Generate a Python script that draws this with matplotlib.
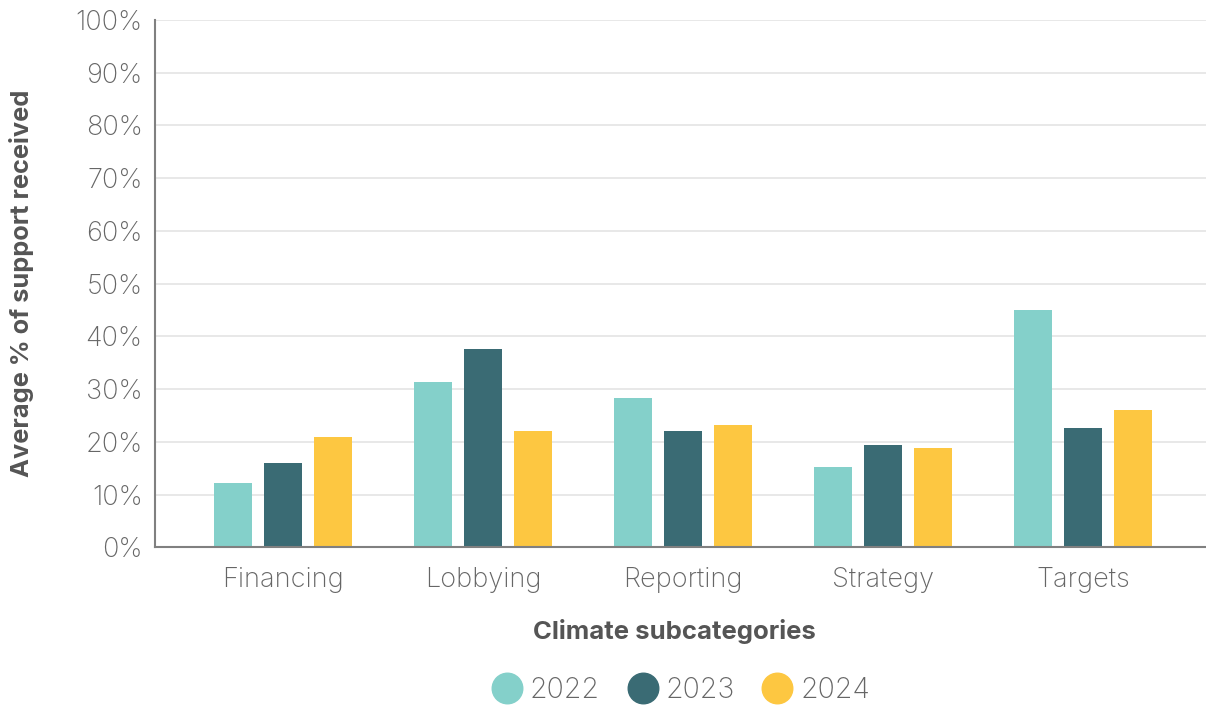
import matplotlib
matplotlib.use("Agg")
import matplotlib.pyplot as plt
from matplotlib.lines import Line2D
import numpy as np

categories = ["Financing", "Lobbying", "Reporting", "Strategy", "Targets"]
years = ["2022", "2023", "2024"]
values_2022 = [12.1, 31.4, 28.3, 15.2, 45.0]
values_2023 = [15.9, 37.6, 22.1, 19.4, 22.6]
values_2024 = [20.9, 22.1, 23.2, 18.85, 26.1]
colors = ["#84D0CA", "#3A6B74", "#FDC741"]
yticks = [0, 10, 20, 30, 40, 50, 60, 70, 80, 90, 100]
ytick_labels = [f"{v}%" for v in yticks]

plt.rcParams['font.family'] = ['Inter', 'DejaVu Sans']

fig = plt.figure(figsize=(12.06, 7.05), dpi=100)
ax = fig.add_axes([155/1206, 1 - 547.3/705, 1 - 155/1206, (547.3 - 20)/705])

x = np.arange(len(categories))
series = [values_2022, values_2023, values_2024]
offsets = [-0.25, 0, 0.25]
for vals, off, col in zip(series, offsets, colors):
    ax.bar(x + off, vals, width=0.19, color=col, zorder=3)

ax.set_xlim(-0.64, 4.615)
ax.set_ylim(0, 100)
ax.set_yticks(yticks)
ax.set_yticklabels(ytick_labels)
ax.set_xticks(x)
ax.set_xticklabels(categories)
ax.tick_params(axis='y', length=0, pad=9, labelsize=19.5, labelcolor="#666666")
ax.tick_params(axis='x', length=0, pad=14, labelsize=19.5, labelcolor="#666666")
for lab in ax.get_yticklabels() + ax.get_xticklabels():
    lab.set_fontweight('light')
ax.grid(axis='y', color="#e6e6e6", linewidth=1.3, zorder=0)
for s in ["top", "right"]:
    ax.spines[s].set_visible(False)
for s in ["left", "bottom"]:
    ax.spines[s].set_color("#808080")
    ax.spines[s].set_linewidth(1.5)
    ax.spines[s].set_zorder(4)

ax.set_ylabel("Average % of support received", fontsize=18.3, fontweight='bold',
              color="#555555")
ax.yaxis.set_label_coords(-0.115, 0.5)
fig.text(0.5 + (155/1206)/2 - 0.005, 1 - 632/705, "Climate subcategories", ha='center', va='center',
         fontsize=18.5, fontweight='bold', color="#555555")

handles = [Line2D([0], [0], marker='o', linestyle='', markersize=22,
                  markerfacecolor=c, markeredgecolor=c) for c in colors]
leg = fig.legend(handles, years, loc='center', bbox_to_anchor=(0.565, 1 - 690/705),
                 ncol=3, frameon=False, fontsize=20.5, labelcolor="#666666",
                 handletextpad=0.3, columnspacing=1.0, handlelength=1.0)
for t in leg.get_texts():
    t.set_fontweight('light')

fig.savefig("out.png", dpi=100)
